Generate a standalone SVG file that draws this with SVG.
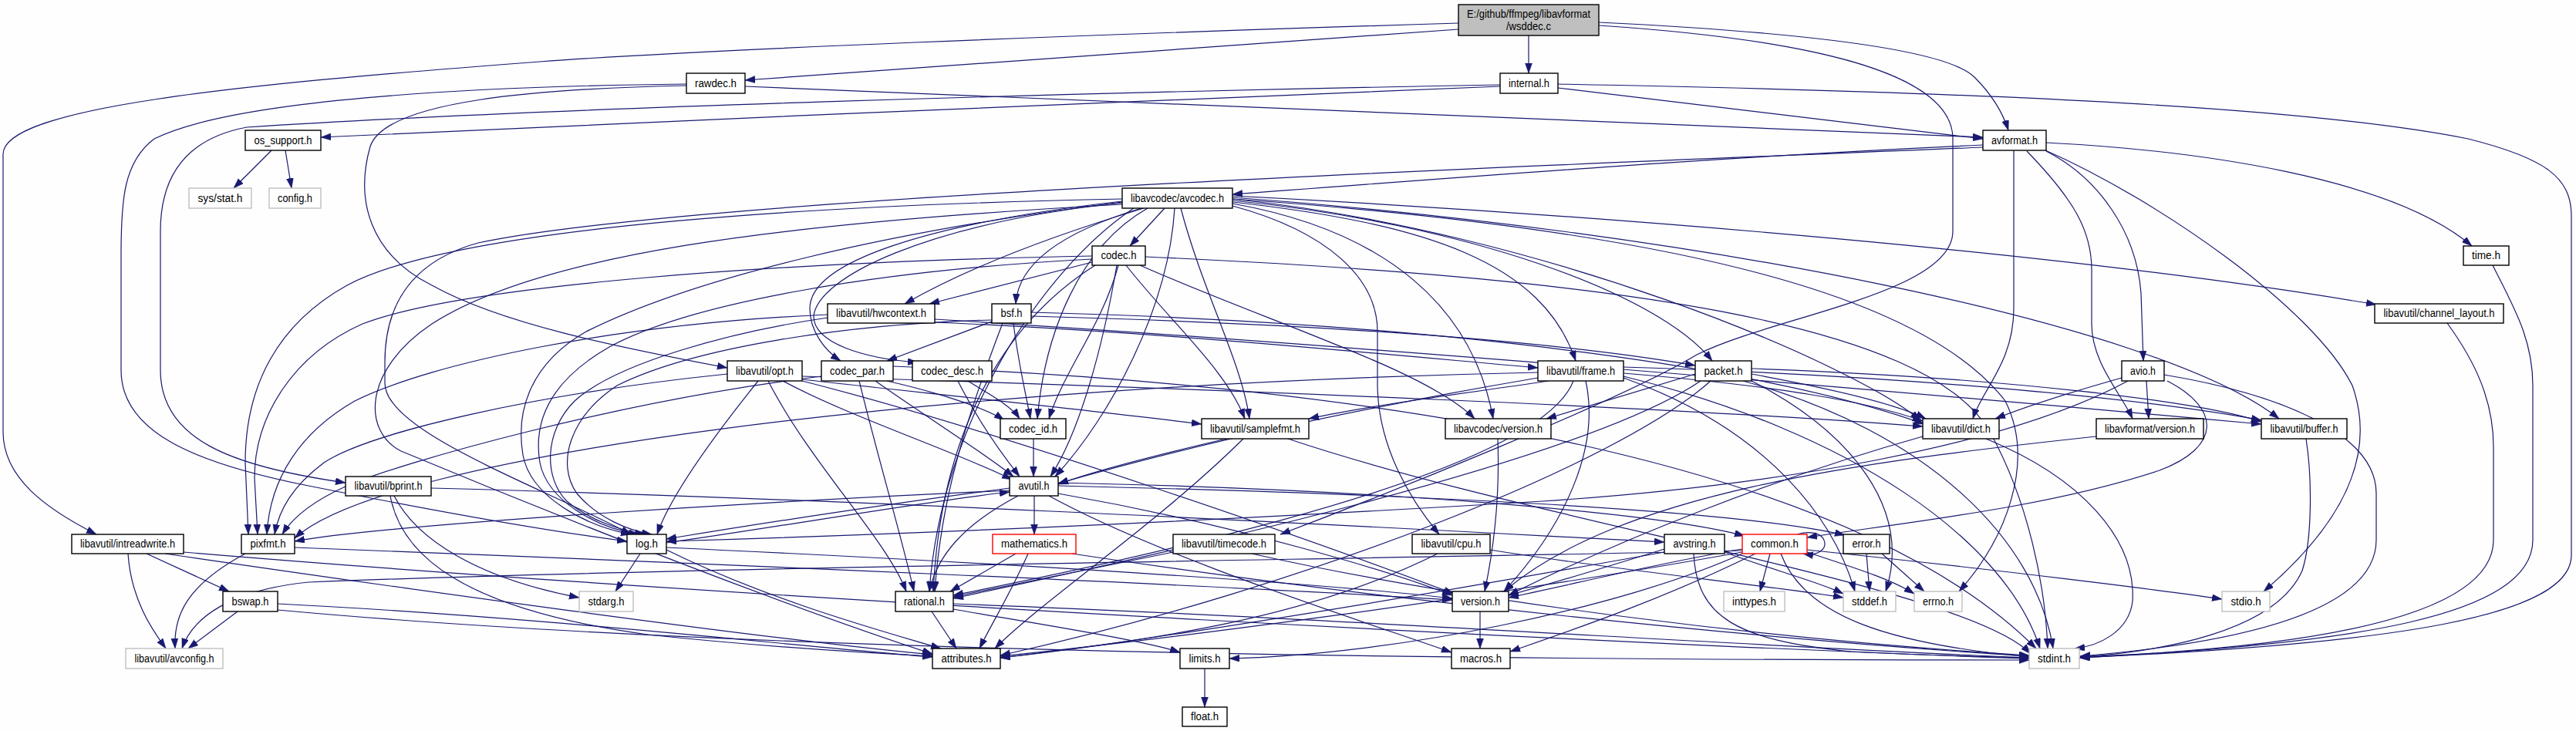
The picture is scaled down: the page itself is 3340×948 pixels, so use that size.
<svg xmlns="http://www.w3.org/2000/svg" width="3340" height="948" viewBox="0 0 3340 948">
<style>
.bg{fill:#fdfefd}
rect.n{fill:#ffffff;stroke:#000000;stroke-width:1.4}
rect.g{fill:#ffffff;stroke:#bfbfbf;stroke-width:1.4}
rect.r{fill:#ffffff;stroke:#ff0000;stroke-width:1.4}
rect.m{fill:#bfbfbf;stroke:#000000;stroke-width:1.4}
text{font-family:"Liberation Sans","Arial",sans-serif;font-size:14px;fill:#000000;text-anchor:middle}
#edges path{fill:none;stroke:#191970;stroke-width:1.2;marker-end:url(#ah)}
</style>
<defs>
<marker id="ah" markerUnits="userSpaceOnUse" markerWidth="14" markerHeight="10" refX="13" refY="4.5" orient="auto">
<path d="M0,0 L13,4.5 L0,9 z" fill="#191970" stroke="#191970" stroke-width="0.5"/>
</marker>
</defs>
<rect class="bg" x="0" y="0" width="3340" height="948"/>
<g id="edges">
<path d="M1891,30 C1400,45 900,65 700,80 C300,110 4,140 4,200 L4,560 C4,620 60,660 125,693"/>
<path d="M1891,38 L966,104"/>
<path d="M1982,46 L1982,95"/>
<path d="M2073,29 C2300,40 2520,60 2560,100 C2585,125 2598,150 2604,169"/>
<path d="M2073,33 C2330,50 2532,90 2532,180 L2532,300 C2532,380 2300,410 2200,460 C2100,520 1800,640 1660,693"/>
<path d="M966,112 C1600,140 2200,165 2571,178"/>
<path d="M890,109 C600,112 300,130 200,180 C160,210 157,260 157,330 L157,480 C157,560 250,600 400,630 C600,670 720,690 813,702"/>
<path d="M890,111 C700,115 500,130 480,190 C460,260 480,330 560,370 C650,420 800,450 943,477"/>
<path d="M1945,112 C1500,130 900,155 416,178"/>
<path d="M1945,110 C1400,120 700,140 320,165 C240,180 208,230 208,300 L208,480 C208,570 300,605 448,626"/>
<path d="M2020,114 C2250,140 2450,165 2571,180"/>
<path d="M2020,109 C2600,120 3000,140 3200,180 C3300,205 3334,230 3334,280 L3334,720 C3334,800 3100,835 2696,853"/>
<path d="M352,195 L303,244"/>
<path d="M370,195 L378,244"/>
<path d="M2571,188 C2200,205 1900,230 1598,252"/>
<path d="M2571,191 C2000,215 900,255 620,315 C530,340 499,400 499,470 L499,497 C499,560 700,630 818,693"/>
<path d="M2611,195 L2611,400 C2611,470 2570,505 2558,543"/>
<path d="M2653,196 C2720,230 2770,300 2776,380 L2779,468"/>
<path d="M2650,194 C2800,260 3000,400 3050,500 C3075,570 3060,660 2935,767"/>
<path d="M2628,196 C2690,260 2712,300 2712,350 L2712,420 C2712,470 2750,510 2765,543"/>
<path d="M2653,185 C2850,195 3100,230 3205,319"/>
<path d="M2751,490 C2680,510 2620,530 2587,543"/>
<path d="M2783,494 L2786,543"/>
<path d="M2810,494 C2880,530 2880,580 2800,610 C2650,660 2450,680 2343,697"/>
<path d="M2759,494 C2600,580 2300,630 2000,650 C1500,680 1100,695 864,702"/>
<path d="M2806,486 C2950,510 3081,560 3081,640 L3081,700 C3081,780 2950,830 2697,851"/>
<path d="M3173,419 C3210,470 3233,520 3233,580 L3233,700 C3233,800 3000,840 2697,852"/>
<path d="M3232,344 C3260,400 3284,440 3284,500 L3284,700 C3284,800 3050,835 2697,853"/>
<path d="M2990,569 C2998,620 2998,700 2985,740 C2950,820 2800,845 2697,852"/>
<path d="M2575,569 C2700,620 2770,700 2765,780 C2760,820 2720,838 2690,841"/>
<path d="M2493,566 C2300,620 2100,700 1956,772"/>
<path d="M2718,566 C2400,600 2100,640 1950,767"/>
<path d="M1510,270 L1465,319"/>
<path d="M1480,270 C1380,300 1320,340 1317,394"/>
<path d="M1488,270 C1400,320 1355,430 1345,543"/>
<path d="M1523,270 C1515,400 1440,540 1368,618"/>
<path d="M1531,270 C1560,380 1610,470 1620,543"/>
<path d="M1598,262 C1850,290 2000,340 2043,468"/>
<path d="M1598,264 C1800,300 1910,400 1936,543"/>
<path d="M1598,267 C1720,300 1786,360 1786,430 L1786,497 C1786,580 1830,650 1866,693"/>
<path d="M1598,260 C1900,290 2150,380 2220,468"/>
<path d="M1598,258 C2000,300 2400,470 2490,545"/>
<path d="M1598,256 C2200,300 2800,420 2955,543"/>
<path d="M1598,254 C2100,280 2700,330 3081,395"/>
<path d="M1598,258 C2200,300 2500,390 2600,520 C2640,600 2600,700 2540,767"/>
<path d="M1455,262 C1150,300 900,360 760,430 C690,470 668,530 678,590 C688,645 760,682 818,693"/>
<path d="M1455,258 C1100,265 600,290 450,370 C360,420 318,500 318,600 L322,693"/>
<path d="M1470,270 C1350,350 1220,550 1205,767"/>
<path d="M1455,265 C1000,290 700,330 560,420 C470,480 470,560 520,585 C700,660 1000,780 1209,848"/>
<path d="M1483,270 C1350,310 1250,350 1173,394"/>
<path d="M1455,263 C1200,290 1060,360 1055,410 C1055,445 1120,465 1190,470"/>
<path d="M1455,261 C1200,290 1050,340 1050,400 C1050,430 1070,455 1090,468"/>
<path d="M1485,333 C2100,360 2500,420 2580,560 C2630,650 2652,760 2655,841"/>
<path d="M1448,344 C1430,450 1400,560 1362,618"/>
<path d="M1416,340 L1205,394"/>
<path d="M1416,336 C1150,350 900,390 790,450 C720,490 690,540 700,600 C710,650 775,685 828,693"/>
<path d="M1416,332 C1000,340 600,370 470,420 C380,460 330,540 330,620 L334,693"/>
<path d="M1420,344 C1300,420 1220,560 1210,767"/>
<path d="M1460,344 C1520,420 1590,480 1614,543"/>
<path d="M1450,344 C1430,420 1380,480 1360,543"/>
<path d="M1478,344 C1650,420 1850,480 1912,543"/>
<path d="M1212,414 C1800,450 2600,520 2932,550"/>
<path d="M1212,418 C1500,430 1800,460 1994,477"/>
<path d="M1073,412 C950,430 800,470 745,520 C705,560 705,620 735,650 C765,675 805,688 836,693"/>
<path d="M1073,408 C800,420 560,470 460,520 C390,560 350,620 346,693"/>
<path d="M1337,405 C1900,420 2300,480 2495,550"/>
<path d="M1286,415 C1100,420 900,450 800,500 C740,540 720,600 748,640 C775,672 815,688 845,693"/>
<path d="M1314,419 C1320,470 1330,510 1336,543"/>
<path d="M1286,417 L1150,468"/>
<path d="M1337,410 C1700,420 2000,440 2198,474"/>
<path d="M1300,419 C1250,550 1220,650 1212,767"/>
<path d="M996,494 C1050,600 1150,700 1175,767"/>
<path d="M1015,494 C1100,540 1250,590 1312,622"/>
<path d="M1040,488 C1600,505 2200,530 2493,553"/>
<path d="M983,494 C930,560 870,640 852,693"/>
<path d="M943,485 C700,510 480,560 420,600 C380,630 362,660 356,693"/>
<path d="M1040,492 C1200,510 1400,530 1558,550"/>
<path d="M1040,494 C1300,560 1700,700 1885,770"/>
<path d="M1158,475 C1800,500 2400,600 2640,841"/>
<path d="M1135,494 C1200,540 1280,590 1314,618"/>
<path d="M1114,494 C1140,600 1170,700 1185,767"/>
<path d="M1065,488 C800,520 520,600 450,630 C405,650 380,670 366,693"/>
<path d="M1150,494 C1220,510 1280,530 1302,545"/>
<path d="M1242,494 C1270,550 1300,590 1322,618"/>
<path d="M1255,494 C1280,510 1310,525 1322,543"/>
<path d="M1994,490 C1700,540 1500,590 1372,627"/>
<path d="M2105,476 C2500,488 2800,520 2932,545"/>
<path d="M2105,484 C2300,500 2420,520 2493,546"/>
<path d="M2040,494 C2000,600 1600,700 1236,772"/>
<path d="M2008,494 C1900,510 1780,525 1697,543"/>
<path d="M1994,483 C1200,500 500,590 382,698"/>
<path d="M2056,494 C2075,580 2030,680 1950,767"/>
<path d="M2105,490 C2300,560 2380,680 2405,767"/>
<path d="M2105,488 C2400,560 2600,700 2645,841"/>
<path d="M2198,485 L2005,543"/>
<path d="M2218,494 C2100,600 1700,760 1297,850"/>
<path d="M2205,494 C2050,600 1500,720 1236,776"/>
<path d="M2271,485 C2380,505 2460,525 2497,543"/>
<path d="M2271,478 C2600,490 2850,520 2932,547"/>
<path d="M2260,494 C2500,560 2640,700 2662,841"/>
<path d="M2271,494 C2400,560 2480,660 2445,767"/>
<path d="M1340,569 L1340,618"/>
<path d="M1590,569 C1500,590 1420,610 1372,628"/>
<path d="M1612,569 C1500,680 1350,780 1290,841"/>
<path d="M1670,569 C2000,680 2550,760 2633,848"/>
<path d="M1942,569 C1945,650 1935,720 1925,767"/>
<path d="M511,643 C540,700 620,750 751,775"/>
<path d="M506,643 C520,720 600,790 840,823 C1000,840 1150,848 1209,851"/>
<path d="M559,633 C1200,650 1900,690 2158,703"/>
<path d="M1372,626 C1800,635 2150,665 2262,695"/>
<path d="M1372,630 C1800,640 2250,660 2392,694"/>
<path d="M1320,643 C1250,680 1215,720 1205,767"/>
<path d="M1372,640 C1600,680 1800,740 1883,772"/>
<path d="M1360,643 C1500,720 1750,800 1882,846"/>
<path d="M1341,643 L1341,693"/>
<path d="M1309,633 C1100,660 950,685 864,699"/>
<path d="M1309,636 C1000,650 500,680 382,702"/>
<path d="M830,718 L798,767"/>
<path d="M864,704 C1000,685 1200,650 1309,638"/>
<path d="M864,713 C1000,780 1150,820 1220,841"/>
<path d="M864,710 C1300,730 1700,755 1883,776"/>
<path d="M166,718 C170,780 200,820 215,841"/>
<path d="M190,718 L297,767"/>
<path d="M214,718 C500,760 1000,830 1209,849"/>
<path d="M238,716 C1000,780 2200,840 2631,854"/>
<path d="M318,718 C240,760 225,800 227,841"/>
<path d="M382,710 C900,730 1600,760 1883,778"/>
<path d="M308,793 L244,841"/>
<path d="M360,783 C700,800 1000,835 1209,852"/>
<path d="M360,791 C1000,850 2000,856 2631,856"/>
<path d="M1317,718 L1232,767"/>
<path d="M1333,718 C1310,770 1285,810 1270,841"/>
<path d="M1390,718 C1800,780 2300,830 2631,851"/>
<path d="M1521,716 L1236,774"/>
<path d="M1623,718 C1900,780 2300,830 2631,850"/>
<path d="M1864,718 C1700,800 1500,830 1297,853"/>
<path d="M1932,713 C2100,740 2300,760 2390,775"/>
<path d="M2236,716 C2300,740 2360,755 2390,770"/>
<path d="M2196,718 C2200,800 2250,830 2400,845 C2500,850 2580,852 2631,853"/>
<path d="M2158,716 C1800,780 1500,830 1297,853"/>
<path d="M2158,712 C2100,730 2000,760 1956,772"/>
<path d="M2330,693 C2375,680 2378,725 2338,718"/>
<path d="M2295,718 L2282,767"/>
<path d="M2309,718 C2340,800 2450,835 2631,852"/>
<path d="M2343,716 C2400,735 2450,750 2482,770"/>
<path d="M2343,713 C2600,740 2800,765 2881,777"/>
<path d="M2259,716 C1900,780 1500,830 1297,851"/>
<path d="M2276,718 C2150,780 2030,820 1958,845"/>
<path d="M2259,712 C2150,730 2030,760 1956,775"/>
<path d="M2259,718 C2100,790 1800,850 1594,854"/>
<path d="M2259,714 C1800,725 900,735 400,755 C300,765 250,800 236,841"/>
<path d="M2420,718 L2424,767"/>
<path d="M2440,718 L2495,767"/>
<path d="M1236,790 C1350,810 1480,830 1530,846"/>
<path d="M1208,793 L1240,841"/>
<path d="M1236,783 C1700,800 2300,840 2631,853"/>
<path d="M1919,793 L1919,841"/>
<path d="M1562,867 L1562,917"/>
</g>
<g id="node-main"><rect class="m" x="1891" y="6" width="182" height="40"/><text x="1982" y="23" textLength="160" lengthAdjust="spacingAndGlyphs">E:/github/ffmpeg/libavformat</text><text x="1982" y="39" textLength="58" lengthAdjust="spacingAndGlyphs">/wsddec.c</text></g>
<g id="node-rawdec"><rect class="n" x="890" y="95" width="76" height="26"/><text x="928" y="113" textLength="54" lengthAdjust="spacingAndGlyphs">rawdec.h</text></g>
<g id="node-internal"><rect class="n" x="1945" y="95" width="75" height="26"/><text x="1982.5" y="113" textLength="53" lengthAdjust="spacingAndGlyphs">internal.h</text></g>
<g id="node-os_support"><rect class="n" x="318" y="169" width="98" height="26"/><text x="367" y="187" textLength="75" lengthAdjust="spacingAndGlyphs">os_support.h</text></g>
<g id="node-avformat"><rect class="n" x="2571" y="169" width="82" height="26"/><text x="2612" y="187" textLength="60" lengthAdjust="spacingAndGlyphs">avformat.h</text></g>
<g id="node-sysstat"><rect class="g" x="245" y="244" width="81" height="26"/><text x="285.5" y="262" textLength="58" lengthAdjust="spacingAndGlyphs">sys/stat.h</text></g>
<g id="node-config"><rect class="g" x="349" y="244" width="67" height="26"/><text x="382.5" y="262" textLength="45" lengthAdjust="spacingAndGlyphs">config.h</text></g>
<g id="node-avcodec"><rect class="n" x="1455" y="244" width="143" height="26"/><text x="1526.5" y="262" textLength="121" lengthAdjust="spacingAndGlyphs">libavcodec/avcodec.h</text></g>
<g id="node-codec"><rect class="n" x="1416" y="319" width="69" height="25"/><text x="1450.5" y="336" textLength="46" lengthAdjust="spacingAndGlyphs">codec.h</text></g>
<g id="node-time"><rect class="n" x="3194" y="319" width="59" height="25"/><text x="3223.5" y="336" textLength="37" lengthAdjust="spacingAndGlyphs">time.h</text></g>
<g id="node-hwcontext"><rect class="n" x="1073" y="394" width="139" height="25"/><text x="1142.5" y="411" textLength="117" lengthAdjust="spacingAndGlyphs">libavutil/hwcontext.h</text></g>
<g id="node-bsf"><rect class="n" x="1286" y="394" width="51" height="25"/><text x="1311.5" y="411" textLength="28" lengthAdjust="spacingAndGlyphs">bsf.h</text></g>
<g id="node-channel_layout"><rect class="n" x="3079" y="394" width="167" height="25"/><text x="3162.5" y="411" textLength="144" lengthAdjust="spacingAndGlyphs">libavutil/channel_layout.h</text></g>
<g id="node-opt"><rect class="n" x="943" y="468" width="97" height="26"/><text x="991.5" y="486" textLength="75" lengthAdjust="spacingAndGlyphs">libavutil/opt.h</text></g>
<g id="node-codec_par"><rect class="n" x="1065" y="468" width="93" height="26"/><text x="1111.5" y="486" textLength="71" lengthAdjust="spacingAndGlyphs">codec_par.h</text></g>
<g id="node-codec_desc"><rect class="n" x="1183" y="468" width="103" height="26"/><text x="1234.5" y="486" textLength="81" lengthAdjust="spacingAndGlyphs">codec_desc.h</text></g>
<g id="node-frame"><rect class="n" x="1994" y="468" width="111" height="26"/><text x="2049.5" y="486" textLength="89" lengthAdjust="spacingAndGlyphs">libavutil/frame.h</text></g>
<g id="node-packet"><rect class="n" x="2198" y="468" width="73" height="26"/><text x="2234.5" y="486" textLength="50" lengthAdjust="spacingAndGlyphs">packet.h</text></g>
<g id="node-avio"><rect class="n" x="2751" y="468" width="55" height="26"/><text x="2778.5" y="486" textLength="33" lengthAdjust="spacingAndGlyphs">avio.h</text></g>
<g id="node-codec_id"><rect class="n" x="1297" y="543" width="85" height="26"/><text x="1339.5" y="561" textLength="63" lengthAdjust="spacingAndGlyphs">codec_id.h</text></g>
<g id="node-samplefmt"><rect class="n" x="1558" y="543" width="139" height="26"/><text x="1627.5" y="561" textLength="117" lengthAdjust="spacingAndGlyphs">libavutil/samplefmt.h</text></g>
<g id="node-avcodec_version"><rect class="n" x="1874" y="543" width="137" height="26"/><text x="1942.5" y="561" textLength="115" lengthAdjust="spacingAndGlyphs">libavcodec/version.h</text></g>
<g id="node-dict"><rect class="n" x="2493" y="543" width="99" height="26"/><text x="2542.5" y="561" textLength="77" lengthAdjust="spacingAndGlyphs">libavutil/dict.h</text></g>
<g id="node-avformat_version"><rect class="n" x="2718" y="543" width="139" height="26"/><text x="2787.5" y="561" textLength="117" lengthAdjust="spacingAndGlyphs">libavformat/version.h</text></g>
<g id="node-buffer"><rect class="n" x="2932" y="543" width="111" height="26"/><text x="2987.5" y="561" textLength="88" lengthAdjust="spacingAndGlyphs">libavutil/buffer.h</text></g>
<g id="node-bprint"><rect class="n" x="448" y="618" width="111" height="25"/><text x="503.5" y="635" textLength="88" lengthAdjust="spacingAndGlyphs">libavutil/bprint.h</text></g>
<g id="node-avutil"><rect class="n" x="1309" y="618" width="63" height="25"/><text x="1340.5" y="635" textLength="40" lengthAdjust="spacingAndGlyphs">avutil.h</text></g>
<g id="node-intreadwrite"><rect class="n" x="93" y="693" width="145" height="25"/><text x="165.5" y="710" textLength="123" lengthAdjust="spacingAndGlyphs">libavutil/intreadwrite.h</text></g>
<g id="node-pixfmt"><rect class="n" x="313" y="693" width="69" height="25"/><text x="347.5" y="710" textLength="46" lengthAdjust="spacingAndGlyphs">pixfmt.h</text></g>
<g id="node-log"><rect class="n" x="813" y="693" width="51" height="25"/><text x="838.5" y="710" textLength="29" lengthAdjust="spacingAndGlyphs">log.h</text></g>
<g id="node-mathematics"><rect class="r" x="1287" y="693" width="108" height="25"/><text x="1341" y="710" textLength="86" lengthAdjust="spacingAndGlyphs">mathematics.h</text></g>
<g id="node-timecode"><rect class="n" x="1521" y="693" width="132" height="25"/><text x="1587" y="710" textLength="110" lengthAdjust="spacingAndGlyphs">libavutil/timecode.h</text></g>
<g id="node-cpu"><rect class="n" x="1831" y="693" width="101" height="25"/><text x="1881.5" y="710" textLength="78" lengthAdjust="spacingAndGlyphs">libavutil/cpu.h</text></g>
<g id="node-avstring"><rect class="n" x="2158" y="693" width="78" height="25"/><text x="2197" y="710" textLength="55" lengthAdjust="spacingAndGlyphs">avstring.h</text></g>
<g id="node-common"><rect class="r" x="2259" y="693" width="84" height="25"/><text x="2301" y="710" textLength="62" lengthAdjust="spacingAndGlyphs">common.h</text></g>
<g id="node-error"><rect class="n" x="2390" y="693" width="60" height="25"/><text x="2420" y="710" textLength="37" lengthAdjust="spacingAndGlyphs">error.h</text></g>
<g id="node-bswap"><rect class="n" x="289" y="767" width="71" height="26"/><text x="324.5" y="785" textLength="48" lengthAdjust="spacingAndGlyphs">bswap.h</text></g>
<g id="node-stdarg"><rect class="g" x="751" y="767" width="70" height="26"/><text x="786" y="785" textLength="47" lengthAdjust="spacingAndGlyphs">stdarg.h</text></g>
<g id="node-rational"><rect class="n" x="1161" y="767" width="75" height="26"/><text x="1198.5" y="785" textLength="53" lengthAdjust="spacingAndGlyphs">rational.h</text></g>
<g id="node-version"><rect class="n" x="1883" y="767" width="73" height="26"/><text x="1919.5" y="785" textLength="51" lengthAdjust="spacingAndGlyphs">version.h</text></g>
<g id="node-inttypes"><rect class="g" x="2235" y="767" width="79" height="26"/><text x="2274.5" y="785" textLength="57" lengthAdjust="spacingAndGlyphs">inttypes.h</text></g>
<g id="node-stddef"><rect class="g" x="2390" y="767" width="68" height="26"/><text x="2424" y="785" textLength="46" lengthAdjust="spacingAndGlyphs">stddef.h</text></g>
<g id="node-errno"><rect class="g" x="2482" y="767" width="62" height="26"/><text x="2513" y="785" textLength="40" lengthAdjust="spacingAndGlyphs">errno.h</text></g>
<g id="node-stdio"><rect class="g" x="2881" y="767" width="62" height="26"/><text x="2912" y="785" textLength="39" lengthAdjust="spacingAndGlyphs">stdio.h</text></g>
<g id="node-avconfig"><rect class="g" x="163" y="841" width="126" height="26"/><text x="226" y="859" textLength="103" lengthAdjust="spacingAndGlyphs">libavutil/avconfig.h</text></g>
<g id="node-attributes"><rect class="n" x="1209" y="841" width="88" height="26"/><text x="1253" y="859" textLength="65" lengthAdjust="spacingAndGlyphs">attributes.h</text></g>
<g id="node-limits"><rect class="n" x="1530" y="841" width="64" height="26"/><text x="1562" y="859" textLength="41" lengthAdjust="spacingAndGlyphs">limits.h</text></g>
<g id="node-macros"><rect class="n" x="1882" y="841" width="76" height="26"/><text x="1920" y="859" textLength="54" lengthAdjust="spacingAndGlyphs">macros.h</text></g>
<g id="node-stdint"><rect class="g" x="2631" y="841" width="65" height="26"/><text x="2663.5" y="859" textLength="43" lengthAdjust="spacingAndGlyphs">stdint.h</text></g>
<g id="node-float"><rect class="n" x="1533" y="917" width="58" height="25"/><text x="1562" y="934" textLength="36" lengthAdjust="spacingAndGlyphs">float.h</text></g>
</svg>
